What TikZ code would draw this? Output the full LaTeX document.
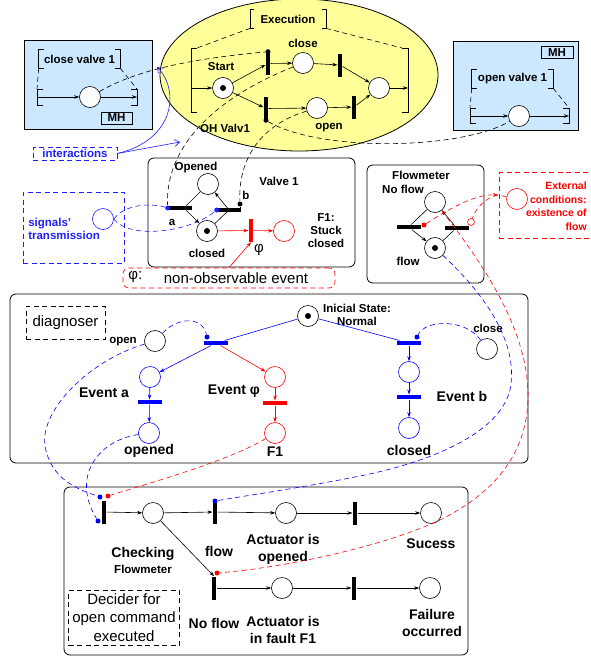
\documentclass[tikz,border=0pt]{standalone}
\usepackage{fontspec}
\setmainfont{Liberation Sans}
\usetikzlibrary{arrows.meta,shapes.geometric,positioning}

\definecolor{paneblue}{RGB}{204,232,255}
\definecolor{execyellow}{RGB}{255,255,153}
\definecolor{sigblue}{RGB}{30,30,255}
\definecolor{faultred}{RGB}{255,0,0}

\tikzset{
  lbl/.style={font=\bfseries\fontsize{11.5}{13}\selectfont, align=center, inner sep=0pt},
  biglbl/.style={font=\bfseries\fontsize{14}{17}\selectfont, align=center, inner sep=0pt},
  note/.style={font=\fontsize{15}{18.5}\selectfont, align=center, inner sep=0pt},
  place/.style={circle, draw, fill=white, minimum size=21pt, inner sep=0pt},
  cdot/.style={circle, fill, minimum size=5pt, inner sep=0pt},
  marked/.style={place, label={[cdot, minimum size=6pt]center:}},
  vbar/.style={rectangle, fill, minimum width=4.5pt, minimum height=23pt, inner sep=0pt},
  hbar/.style={rectangle, fill, minimum width=24pt, minimum height=4.5pt, inner sep=0pt},
  arc/.style={-{Stealth[length=5pt,width=3.5pt]}},
  link/.style={dash pattern=on 5pt off 3.5pt},
  panel/.style={draw, line width=0.8pt},
  roundpanel/.style={panel, rounded corners=6pt}
}

\begin{document}
\begin{tikzpicture}[x=1pt, y=-1pt, line width=0.6pt]
\useasboundingbox (0,0) rectangle (590,656);

% machine handlers and execution
\node[panel, fill=paneblue, minimum width=128pt, minimum height=89pt] (closebox) at (88,84.5) {};
\node[panel, fill=paneblue, minimum width=125pt, minimum height=89pt] (openbox) at (515.5,85.5) {};
\node[ellipse, panel, fill=execyellow, minimum width=278pt, minimum height=152pt] (exec) at (299,75) {};

% close valve 1
\node[lbl, minimum width=81pt, minimum height=18pt] (closetitle) at (79.5,59) {close valve 1};
\draw ([xshift=5pt]closetitle.north west) -| (closetitle.south west) -- ++(5pt,0);
\draw ([xshift=-5pt]closetitle.north east) -| (closetitle.south east) -- ++(-5pt,0);
\coordinate (closein) at (37,97);
\coordinate (closeout) at (137,97);
\draw (43,89) -| (37,105) -- (43,105);
\draw (131,89) -| (137,105) -- (131,105);
\draw[link] (closetitle.south west) -- (37,89);
\draw[link] (closetitle.south east) -- (137,89);
\node[place] (closeplace) at (90,97) {};
\draw[arc] (closein) -- (closeplace);
\draw[arc] (closeplace) -- (closeout);
\node[draw, lbl, minimum width=31pt, minimum height=12pt] (closemh) at (116.5,118) {MH};

% open valve 1
\node[draw, lbl, minimum width=32pt, minimum height=12pt] (openmh) at (557,52.5) {MH};
\node[lbl, minimum width=81pt, minimum height=18pt] (opentitle) at (512.5,79) {open valve 1};
\draw ([xshift=5pt]opentitle.north west) -| (opentitle.south west) -- ++(5pt,0);
\draw ([xshift=-5pt]opentitle.north east) -| (opentitle.south east) -- ++(-5pt,0);
\coordinate (openin) at (470,116);
\coordinate (openout) at (569,116);
\draw (476,108) -| (470,123) -- (476,123);
\draw (563,108) -| (569,123) -- (563,123);
\draw[link] (opentitle.south west) -- (470,108);
\draw[link] (opentitle.south east) -- (569,108);
\node[place] (openplace) at (519,116) {};
\draw[arc] (openin) -- (openplace);
\draw[arc] (openplace) -- (openout);

% execution net
\node[lbl, minimum width=75pt, minimum height=18pt] (exectitle) at (288,19) {Execution};
\draw ([xshift=4pt]exectitle.north west) -| (exectitle.south west) -- ++(4pt,0);
\draw ([xshift=-4pt]exectitle.north east) -| (exectitle.south east) -- ++(-4pt,0);
\coordinate (execin) at (191,88);
\coordinate (execout) at (408,88);
\draw (197,48) -| (191,112) -- (197,112);
\draw (402,48) -| (408,112) -- (402,112);
\draw[link] (exectitle.south west) -- (197,48);
\draw[link] (exectitle.south east) -- (402,48);
\node[marked] (start) at (223,88) {};
\node[lbl] (startlbl) at (221,67) {Start};
\node[vbar] (tclose) at (268,63.5) {};
\node[vbar] (topen) at (266,108.5) {};
\node[cdot] (tclosedot) at (tclose.north) {};
\node[cdot] (topendot) at (topen.south) {};
\node[place] (closecmd) at (303,63) {};
\node[lbl] (closecmdlbl) at (303,43) {close};
\node[vbar] (tclosed) at (340,65) {};
\node[place] (opencmd) at (317,108) {};
\node[lbl] (opencmdlbl) at (329,128) {open};
\node[vbar] (topened) at (354,107) {};
\node[place] (done) at (379,88) {};
\node[lbl] (ohlbl) at (225,128) {OH Valv1};
\draw[arc] (execin) -- (start);
\draw[arc] (start) -- (tclose);
\draw[arc] (start) -- (topen);
\draw[arc] (tclose) -- (closecmd);
\draw[arc] (closecmd) -- (tclosed);
\draw[arc] (tclosed) -- (done);
\draw[arc] (topen) -- (opencmd);
\draw[arc] (opencmd) -- (topened);
\draw[arc] (topened) -- (done);
\draw[arc] (done) -- (execout);

% interactions
\node[draw=sigblue, link, lbl, text=sigblue, minimum width=84pt, minimum height=13pt] (intbox) at (75,153.5) {interactions};
\coordinate (execedge) at (157,67);
\coordinate (linkhit) at (180,142);
\draw[sigblue, -{Straight Barb[length=5pt,width=7pt]}] (intbox.east) .. controls (175,140) and (180,90) .. (execedge);
\draw[sigblue, -{Straight Barb[length=5pt,width=7pt]}] (intbox.east) -- (linkhit);

% valve 1
\node[roundpanel, minimum width=207pt, minimum height=109pt] (valvebox) at (251.5,212.5) {};
\node[lbl] (valvelbl) at (279,181) {Valve 1};
\node[place] (vopened) at (208,184) {};
\node[marked] (vclosed) at (207,231) {};
\node[lbl] (vopenedlbl) at (196,168) {Opened};
\node[lbl] (vclosedlbl) at (207,253) {closed};
\node[hbar] (ta) at (180,208) {};
\node[hbar] (tb) at (229,210) {};
\node[lbl] (talbl) at (172,222) {a};
\node[lbl] (tblbl) at (246,195) {b};
\node[cdot] (tbcmd) at (240,204) {};
\draw (tbcmd) -- (240,210);
\node[cdot, sigblue] (tadot) at (ta.west) {};
\node[cdot, sigblue] (tbdot) at (tb.west) {};
\draw (vopened) -- ([xshift=4pt]ta.center);
\draw[arc] ([xshift=4pt]ta.center) -- (vclosed);
\draw (vclosed) -- (tb.center);
\draw[arc] (tb.center) -- (vopened);
\node[vbar, faultred] (tphi) at (251,230.5) {};
\node[place, draw=faultred] (stuck) at (284,231) {};
\draw[arc, faultred] (vclosed) -- (tphi);
\draw[arc, faultred] (tphi) -- (stuck);
\node[note] (philbl) at (259,250) {φ};
\node[lbl] (stucklbl) at (326,231) {F1:\\Stuck\\closed};

% non-observable event
\node[draw=faultred, link, rounded corners=6pt, minimum width=212pt, minimum height=20pt] (phibox) at (229,278) {};
\node[note, anchor=west] (phisym) at (128,277) {φ:};
\node[note] (phitext) at (236,278) {non-observable event};
\draw[arc, faultred] (phibox.north) -- (tphi.south);

% signals
\node[draw=sigblue, link, minimum width=101pt, minimum height=71pt] (sigbox) at (73.5,227.5) {};
\node[lbl, text=sigblue, anchor=west, align=left] (sigtxt) at (28,228.5) {signals'\\transmission};
\node[place, draw=sigblue, fill=none] (sigplace) at (103,219) {};
\draw[link, sigblue] (sigplace.east) .. controls (125,204) and (150,203) .. (tadot);
\draw[link, sigblue] (sigplace.east) .. controls (130,240) and (190,232) .. (tbdot);

% command links
\draw[link] (closeplace) .. controls (140,68) and (200,58) .. (tclosedot);
\draw[link] (topendot) .. controls (320,152) and (460,150) .. (openplace);
\draw[link] (closecmd) .. controls (210,100) and (165,150) .. (tadot);
\draw[link] (opencmd) .. controls (260,125) and (238,160) .. (tbcmd);

% flowmeter
\node[roundpanel, minimum width=117pt, minimum height=118pt] (flowbox) at (425.5,224) {};
\node[lbl] (flowboxlbl) at (421,175) {Flowmeter};
\node[lbl] (noflowlbl) at (403,189) {No flow};
\node[place] (noflow) at (435,202) {};
\node[marked] (flowing) at (435,248) {};
\node[lbl] (flowinglbl) at (408,261) {flow};
\node[hbar] (tstop) at (408.5,227) {};
\node[hbar] (tstart) at (456.5,228) {};
\node[cdot, faultred] (stopdot) at (424,225) {};
\node[circle, draw=faultred, fill=white, minimum size=7pt, inner sep=0pt] (inhib) at (471,222) {};
\draw (noflow) -- (tstop);
\draw[arc] (tstop) -- (flowing);
\draw (flowing) -- (tstart);
\draw[arc] (tstart) -- (noflow);

% external conditions
\node[draw=faultred, link, minimum width=122pt, minimum height=66pt] (extbox) at (560,205.5) {};
\node[lbl, text=faultred, anchor=east, align=right, font=\bfseries\fontsize{10.5}{13.5}\selectfont] (exttxt) at (587,206) {External\\conditions:\\existence of\\flow};
\node[place, draw=faultred, fill=none] (extplace) at (517,199) {};
\coordinate (extin) at (498,195);
\draw[link, faultred, arc] (stopdot) .. controls (455,205) and (478,194) .. (extin);
\draw[link, faultred] (extplace) -- (extin) .. controls (485,198) and (476,208) .. (inhib);

% diagnoser
\node[roundpanel, minimum width=518pt, minimum height=169pt] (diagbox) at (269,378.5) {};
\node[draw, link, note, minimum width=79pt, minimum height=33pt] (diagtag) at (65.5,322.5) {diagnoser};
\node[marked] (normal) at (308,316) {};
\node[lbl] (normallbl) at (357,315) {Inicial State:\\Normal};
\node[place] (dopen) at (155,341) {};
\node[lbl] (dopenlbl) at (123,342) {open};
\node[place] (dclose) at (487,349) {};
\node[lbl] (dcloselbl) at (488,328) {close};
\node[hbar, blue] (topenok) at (216,343) {};
\node[hbar, blue] (tcloseok) at (409,343) {};
\node[cdot, blue] (topenokdot) at (207,337) {};
\node[cdot, blue] (tcloseokdot) at (417,337) {};
\draw[blue] (normal) -- (topenok);
\draw[blue] (normal) -- (tcloseok);
\draw[link, blue] (dopen) .. controls (180,315) and (203,318) .. (topenokdot);
\draw[link, blue] (dclose) .. controls (465,318) and (425,320) .. (tcloseokdot);
\node[place, draw=blue] (eva) at (150,377) {};
\node[hbar, blue] (evabar) at (149.5,402) {};
\node[place, draw=blue] (opened) at (149,433) {};
\node[place, draw=faultred] (evphi) at (275,377) {};
\node[hbar, faultred] (evphibar) at (275,403) {};
\node[place, draw=faultred] (fault) at (275,433) {};
\node[place, draw=blue] (evb) at (409,372) {};
\node[hbar, blue] (evbbar) at (409,397) {};
\node[place, draw=blue] (closed) at (409,428) {};
\draw[arc, blue] (topenok) -- (eva);
\draw[arc, faultred] (topenok) -- (evphi);
\draw[arc, blue] (eva) -- (evabar);
\draw[arc, blue] (evabar) -- (opened);
\draw[arc, faultred] (evphi) -- (evphibar);
\draw[arc, faultred] (evphibar) -- (fault);
\draw[arc, blue] (tcloseok) -- (evb);
\draw[arc, blue] (evb) -- (evbbar);
\draw[arc, blue] (evbbar) -- (closed);
\node[biglbl] (evalbl) at (104,393) {Event a};
\node[biglbl] (openedlbl) at (149,451) {opened};
\node[biglbl] (evphilbl) at (234,391) {Event φ};
\node[biglbl] (faultlbl) at (275,452) {F1};
\node[biglbl] (evblbl) at (462,396) {Event b};
\node[biglbl] (closedlbl) at (409,450) {closed};

% decider
\node[roundpanel, minimum width=404pt, minimum height=168pt] (decbox) at (266,571) {};
\node[draw, link, note, minimum width=111pt, minimum height=55pt] (dectag) at (124,617.5) {Decider for\\open command\\executed};
\node[vbar] (tcheck) at (104,512) {};
\node[cdot, blue] (chkopen) at (100,497) {};
\node[cdot, faultred] (chkfault) at (108,496) {};
\node[cdot, blue] (chkopened) at (98,521) {};
\node[place] (checking) at (153,513) {};
\node[vbar] (tflow) at (215,512) {};
\node[cdot, blue] (flowdot) at (215,501) {};
\node[place] (actopen) at (286,513) {};
\node[vbar] (tsuccess) at (355,513) {};
\node[place] (success) at (431,513) {};
\node[vbar] (tnoflow) at (214,588) {};
\node[cdot, faultred] (noflowdot) at (217,573) {};
\node[place] (actfault) at (282,588) {};
\node[vbar] (tfail) at (354,588) {};
\node[place] (failure) at (430,588) {};
\draw[arc] (tcheck) -- (checking);
\draw[arc] (checking) -- (tflow);
\draw[arc] (tflow) -- (actopen);
\draw[arc] (actopen) -- (tsuccess);
\draw[arc] (tsuccess) -- (success);
\draw[arc] (checking) -- (tnoflow.north);
\draw[arc] (tnoflow) -- (actfault);
\draw[arc] (actfault) -- (tfail);
\draw[arc] (tfail) -- (failure);
\node[biglbl] (checkinglbl) at (143,554) {Checking};
\node[lbl] (checkingsub) at (143,569) {Flowmeter};
\node[biglbl] (tflowlbl) at (219,551) {flow};
\node[biglbl] (actopenlbl) at (283,549.5) {Actuator is\\opened};
\node[biglbl] (successlbl) at (431,544) {Sucess};
\node[biglbl] (tnoflowlbl) at (214,623) {No flow};
\node[biglbl] (actfaultlbl) at (283,629.5) {Actuator is\\in fault F1};
\node[biglbl] (failurelbl) at (432,623) {Failure\\occurred};

% diagnoser to decider links
\draw[link, blue] (dopen) .. controls (90,360) and (40,410) .. (45,445) .. controls (50,480) and (80,490) .. (chkopen);
\draw[link, blue] (opened) .. controls (100,440) and (70,475) .. (chkopened);
\draw[link, faultred] (fault) .. controls (230,460) and (160,480) .. (chkfault);

% flowmeter to decider links
\draw[link, blue] (flowing) .. controls (480,290) and (520,340) .. (510,390) .. controls (500,430) and (440,460) .. (360,476) .. controls (300,488) and (250,495) .. (flowdot);
\draw[link, faultred] (noflow) .. controls (480,260) and (530,330) .. (528,400) .. controls (526,450) and (500,490) .. (440,520) .. controls (380,548) and (280,568) .. (noflowdot);
\end{tikzpicture}
\end{document}
